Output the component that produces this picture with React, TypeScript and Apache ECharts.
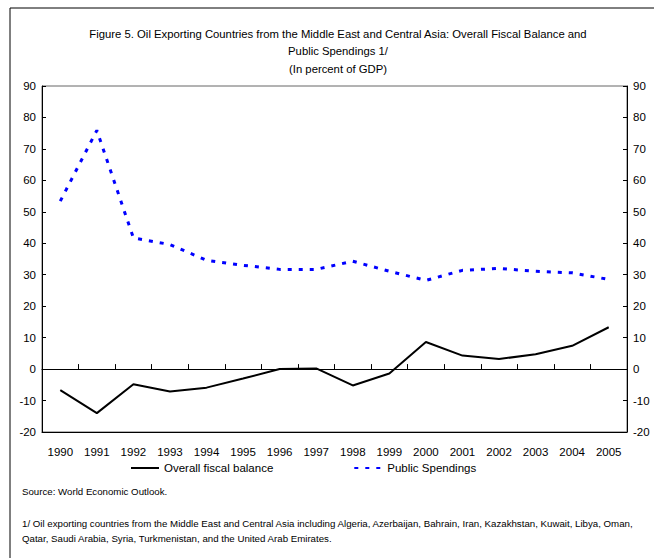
import React, { useEffect, useRef } from "react";
import * as echarts from "echarts";

const years = ["1990", "1991", "1992", "1993", "1994", "1995", "1996", "1997", "1998", "1999", "2000", "2001", "2002", "2003", "2004", "2005"];
const fiscalBalance = [-6.7, -14.0, -4.8, -7.1, -5.9, -3.0, 0.0, 0.2, -5.2, -1.4, 8.6, 4.3, 3.2, 4.7, 7.4, 13.3];
const publicSpendings = [53.4, 75.9, 41.7, 39.6, 34.6, 33.0, 31.7, 31.7, 34.3, 31.1, 28.2, 31.4, 32.0, 31.1, 30.6, 28.5];
const yMin = -20;
const yMax = 90;
const yStep = 10;

const titleText = "Figure 5. Oil Exporting Countries from the Middle East and Central Asia: Overall Fiscal Balance and\nPublic Spendings 1/\n(In percent of GDP)";
const sourceText = "Source: World Economic Outlook.";
const noteLine1 = "1/ Oil exporting countries from the Middle East and Central Asia including Algeria, Azerbaijan, Bahrain, Iran, Kazakhstan, Kuwait, Libya, Oman,";
const noteLine2 = "Qatar, Saudi Arabia, Syria, Turkmenistan, and the United Arab Emirates.";

const FONT = "'Liberation Sans', Arial, sans-serif";

export default function App() {
  const ref = useRef<HTMLDivElement>(null);
  useEffect(() => {
    if (!ref.current) return;
    const chart = echarts.init(ref.current, null, { renderer: "svg" });
    const yAxisBase = {
      type: "value",
      min: yMin,
      max: yMax,
      interval: yStep,
      axisLine: { show: true, onZero: false, lineStyle: { color: "#000", width: 1 } },
      axisTick: { show: true, inside: true, length: 4, lineStyle: { color: "#000" } },
      axisLabel: { color: "#000", fontSize: 11.5, fontFamily: FONT, margin: 6 },
      splitLine: { show: false },
    };
    chart.setOption({
      animation: false,
      backgroundColor: "#fff",
      textStyle: { fontFamily: FONT },
      title: {
        text: titleText,
        left: 333,
        top: 20,
        textAlign: "center",
        textStyle: { fontSize: 11.3, fontWeight: "normal", color: "#000", fontFamily: FONT, lineHeight: 17.5 },
      },
      grid: { left: 42, right: 27, top: 86, bottom: 126, show: true, borderColor: "#666", borderWidth: 1 },
      legend: {
        left: 130,
        top: 462,
        padding: 0,
        itemWidth: 28,
        itemHeight: 8,
        itemGap: 80,
        itemStyle: { opacity: 0 },
        textStyle: { fontSize: 11.5, color: "#000", fontFamily: FONT },
        data: ["Overall fiscal balance", "Public Spendings"],
      },
      xAxis: [
        {
          type: "category",
          data: years,
          boundaryGap: true,
          position: "bottom",
          axisLine: { onZero: false, lineStyle: { color: "#000", width: 1 } },
          axisTick: { show: false },
          axisLabel: { color: "#000", fontSize: 11.5, fontFamily: FONT, margin: 14 },
        },
        {
          type: "category",
          data: years,
          boundaryGap: true,
          position: "bottom",
          axisLine: { onZero: true, onZeroAxisIndex: 0, lineStyle: { color: "#000", width: 1 } },
          axisTick: { show: true, inside: true, length: 5, lineStyle: { color: "#000" } },
          axisLabel: { show: false },
        },
      ],
      yAxis: [
        { ...yAxisBase, position: "left" },
        { ...yAxisBase, position: "right" },
      ],
      series: [
        {
          name: "Overall fiscal balance",
          type: "line",
          data: fiscalBalance,
          xAxisIndex: 0,
          yAxisIndex: 0,
          symbol: "none",
          color: "#000",
          lineStyle: { color: "#000", width: 2 },
        },
        {
          name: "Public Spendings",
          type: "line",
          data: publicSpendings,
          xAxisIndex: 0,
          yAxisIndex: 0,
          symbol: "none",
          color: "#0000ff",
          lineStyle: { color: "#0000ff", width: 3, type: [4, 7] },
        },
      ],
      graphic: [
        {
          type: "polyline",
          silent: true,
          shape: { points: [[10, 570], [10, 8], [670, 8]] },
          style: { stroke: "#000", lineWidth: 1, fill: "none" },
        },
        {
          type: "text",
          left: 22,
          top: 486,
          style: { text: sourceText, fontSize: 9.7, fill: "#000", fontFamily: FONT },
        },
        {
          type: "text",
          left: 22,
          top: 518,
          style: { text: noteLine1, fontSize: 9.7, fill: "#000", fontFamily: FONT },
        },
        {
          type: "text",
          left: 22,
          top: 533,
          style: { text: noteLine2, fontSize: 9.7, fill: "#000", fontFamily: FONT },
        },
      ],
    });
    return () => chart.dispose();
  }, []);
  return <div ref={ref} style={{ position: "absolute", left: 0, top: 0, width: 654, height: 558 }} />;
}
